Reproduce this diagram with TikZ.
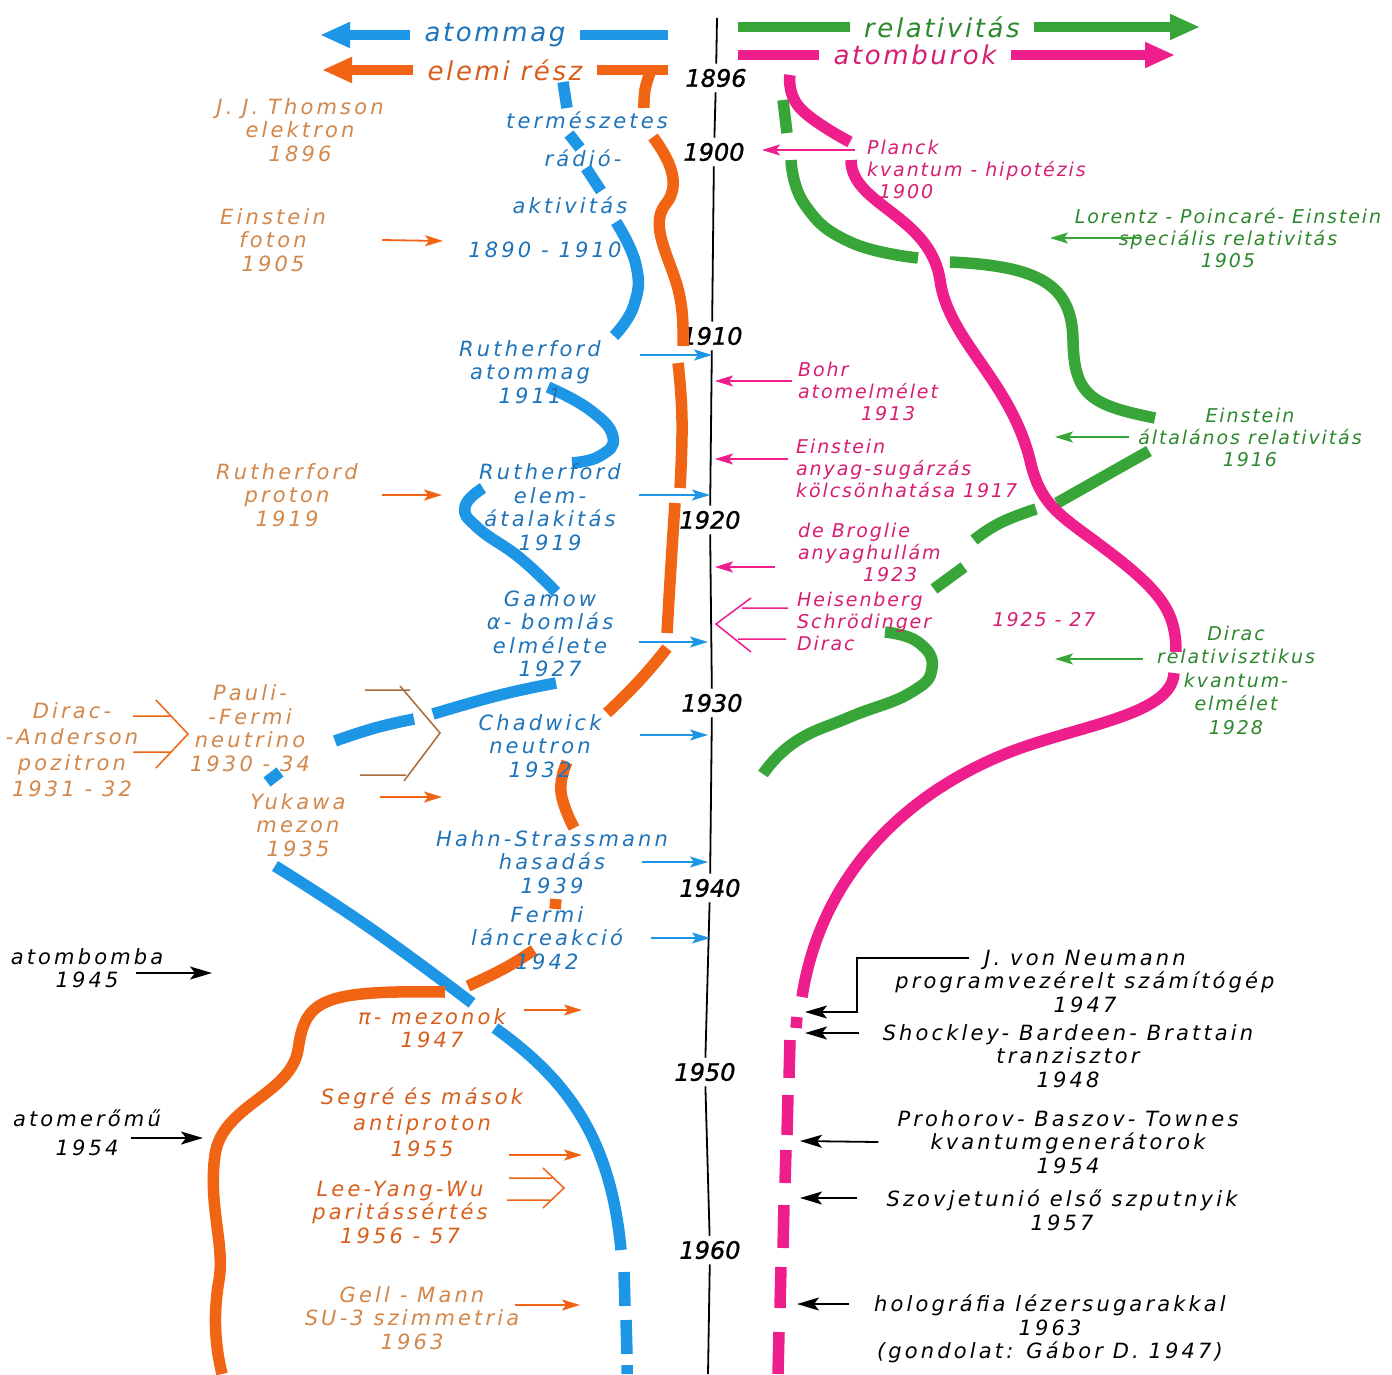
\documentclass[tikz,border=0pt]{standalone}
\usepackage{fontspec}
\newfontfamily\hand{DejaVu Sans Oblique}[LetterSpace=15]
\newfontfamily\handS{DejaVu Sans Oblique}[LetterSpace=10]
\newfontfamily\handH{DejaVu Sans Oblique}[LetterSpace=10]
\newfontfamily\handY{DejaVu Sans Oblique}[FakeBold=1.2]
\usetikzlibrary{arrows.meta,calc}

\definecolor{bline}{RGB}{30,150,230}
\definecolor{oline}{RGB}{240,100,20}
\definecolor{gline}{RGB}{55,165,55}
\definecolor{mline}{RGB}{238,30,140}
\definecolor{btxt}{RGB}{30,115,185}
\definecolor{otxt}{RGB}{210,135,75}
\definecolor{odark}{RGB}{215,95,30}
\definecolor{gtxt}{RGB}{45,135,45}
\definecolor{mtxt}{RGB}{215,30,115}

\begin{document}
\begin{tikzpicture}[x=1pt, y=-1pt,
  band/.style={line width=11.5pt},
  hband/.style={line width=10pt},
  bigtip/.style={-{Triangle[length=30pt,width=24pt]}},
  lab/.style={font=\hand\fontsize{21}{23.5}\selectfont, align=center, inner sep=1pt},
  slab/.style={font=\handS\fontsize{19}{22}\selectfont, align=center, inner sep=1pt},
  yr/.style={font=\handY\fontsize{24}{25}\selectfont, inner sep=5pt},
  hd/.style={font=\handH\fontsize{26}{28}\selectfont, inner sep=14pt},
  tline/.style={line width=1.8pt},
  thin/.style={line width=1.8pt, -{Stealth[length=18pt,width=11pt,inset=4pt]}},
  otip/.style={thin, oline},
  btip/.style={thin, bline},
  mtip/.style={thin, mline},
  gtip/.style={thin, gline},
  ktip/.style={line width=1.8pt, -{Stealth[length=22pt,width=13pt,inset=5pt]}},
  chev/.style={line width=1.5pt}
]
\fill[white] (0,0) rectangle (1392,1374);
\useasboundingbox (0,0) rectangle (1392,1374);

% headers
\node[hd, btxt] (hatom) at (495,35) {atommag};
\node[hd, odark] (helem) at (505,70) {elemi rész};
\node[hd, gtxt] (hrel) at (942,27) {relativitás};
\node[hd, mtxt] (hburok) at (915,55) {atomburok};
\coordinate (atomtip) at (320,35);
\coordinate (atomend) at (668,35);
\coordinate (elemtip) at (322,70);
\coordinate (elemend) at (668,70);
\coordinate (relbeg) at (738,27);
\coordinate (reltip) at (1200,27);
\coordinate (burbeg) at (738,55);
\coordinate (burtip) at (1175,55);
\draw[hband, bline, bigtip] (hatom) -- (atomtip);
\draw[hband, bline] (hatom) -- (atomend);
\draw[hband, oline, bigtip] (helem) -- (elemtip);
\draw[hband, oline] (helem) -- (elemend);
\draw[hband, gline] (relbeg) -- (hrel);
\draw[hband, gline, bigtip] (hrel) -- (reltip);
\draw[hband, mline] (burbeg) -- (hburok);
\draw[hband, mline, bigtip] (hburok) -- (burtip);

% timeline
\node[yr] (y1896) at (716,78) {1896};
\node[yr] (y1900) at (714,152) {1900};
\node[yr] (y1910) at (712,336) {1910};
\node[yr] (y1920) at (710,520) {1920};
\node[yr] (y1930) at (712,703) {1930};
\node[yr] (y1940) at (710,888) {1940};
\node[yr] (y1950) at (705,1072) {1950};
\node[yr] (y1960) at (710,1250) {1960};
\coordinate (ttop) at (717,18);
\coordinate (tbot) at (708,1374);
\draw[tline] (ttop) -- (y1896) -- (y1900) -- (y1910) -- (y1920) -- (y1930)
  -- (y1940) -- (y1950) -- (y1960) -- (tbot);

% atommag (blue band)
\draw[band, bline] (563,82) -- (567,108);
\draw[band, bline] (569,134) -- (580,148);
\draw[band, bline] (586,168) -- (601,191);
\draw[band, bline] plot[smooth, tension=0.8] coordinates {(616,222) (636,265) (634,305) (614,336)};
\draw[band, bline] plot[smooth, tension=0.8] coordinates {(548,387) (590,410) (613,437) (600,456) (572,463)};
\draw[band, bline] plot[smooth, tension=0.8] coordinates {(483,488) (465,507) (478,528) (520,558) (556,592)};
\draw[band, bline] plot[smooth, tension=0.8] coordinates {(556,683) (500,695) (433,714)};
\draw[band, bline] plot[smooth, tension=0.8] coordinates {(414,719) (375,728) (335,741)};
\draw[band, bline] (267,782) -- (280,772);
\draw[band, bline] plot[smooth, tension=0.8] coordinates {(275,866) (370,928) (472,1003)};
\draw[band, bline] (495,1028) .. controls (560,1075) and (610,1130) .. (621,1250);
\draw[band, bline] (624,1272) -- (625,1306) (626,1320) -- (627,1354) (627,1365) -- (627,1374);

% elemi resz (orange band)
\draw[band, oline] plot[smooth, tension=0.8] coordinates {(650,73) (645,90) (644,108)};
\draw[band, oline] (653,137) .. controls (670,160) and (682,185) .. (665,205)
  .. controls (650,225) and (668,255) .. (677,285) .. controls (684,310) and (683,330) .. (683,346);
\draw[band, oline] plot[smooth, tension=0.8] coordinates {(678,363) (682,420) (680,488)};
\draw[band, oline] plot[smooth, tension=0.8] coordinates {(675,503) (671,565) (667,633)};
\draw[band, oline] plot[smooth, tension=0.8] coordinates {(667,648) (640,680) (607,713)};
\draw[band, oline] plot[smooth, tension=0.8] coordinates {(567,762) (561,792) (574,828)};
\draw[band, oline] (556,899) -- (555,909);
\draw[band, oline] plot[smooth, tension=0.8] coordinates {(534,950) (505,968) (468,986)};
\draw[band, oline] (445,992) .. controls (320,990) and (305,1000) .. (298,1050)
  .. controls (290,1095) and (222,1105) .. (215,1155) .. controls (208,1205) and (225,1245) .. (219,1280)
  .. controls (213,1315) and (215,1345) .. (222,1374);

% relativitas (green band)
\draw[band, gline] (783,100) -- (787,133);
\draw[band, gline] plot[smooth, tension=0.8] coordinates {(791,160) (805,205) (850,242) (918,258)};
\draw[band, gline] (950,262) .. controls (1040,266) and (1072,285) .. (1073,340)
  .. controls (1074,395) and (1090,405) .. (1155,418);
\draw[band, gline] (1149,451) -- (1057,503);
\draw[band, gline] plot[smooth, tension=0.8] coordinates {(1036,509) (1000,523) (974,540)};
\draw[band, gline] (964,567) -- (934,589);
\draw[band, gline] plot[smooth, tension=0.8] coordinates {(885,632) (918,642) (932,668) (910,693) (850,717) (795,742) (763,774)};

% atomburok (magenta band)
\draw[band, mline] plot[smooth, tension=0.8] coordinates {(790,75) (800,108) (850,142)};
\draw[band, mline] (851,160) .. controls (851,205) and (930,215) .. (940,280)
  .. controls (948,340) and (1010,380) .. (1030,460) .. controls (1040,505) and (1060,515) .. (1100,545)
  .. controls (1160,590) and (1176,610) .. (1176,652);
\draw[band, mline] (1174,673) .. controls (1172,715) and (1080,725) .. (1010,752)
  .. controls (900,795) and (820,880) .. (802,997);
\draw[band, mline] (797,1017) -- (796,1028) (790,1040) -- (789,1078) (788,1095) -- (787,1135)
  (786,1150) -- (785,1183) (784,1205) -- (783,1248) (781,1267) -- (780,1308) (779,1332) -- (778,1374);

% left labels
\node[lab, otxt] (thomson) at (300,130) {J. J. Thomson\\elektron\\1896};
\node[lab, otxt] (foton) at (273,240) {Einstein\\foton\\1905};
\node[lab, otxt] (proton) at (287,495) {Rutherford\\proton\\1919};
\node[lab, otxt, font=\hand\fontsize{21}{26}\selectfont] (pozitron) at (72,750) {Dirac-\\-Anderson\\pozitron\\1931 - 32};
\node[lab, otxt] (neutrino) at (250,728) {Pauli-\\-Fermi\\neutrino\\1930 - 34};
\node[lab, otxt] (yukawa) at (298,825) {Yukawa\\mezon\\1935};
\node[lab, odark] (pimezon) at (432,1028) {π- mezonok\\1947};
\node[lab, odark, font=\hand\fontsize{21}{26}\selectfont] (antiproton) at (422,1122) {Segré és mások\\antiproton\\1955};
\node[lab, odark] (paritas) at (400,1212) {Lee-Yang-Wu\\paritássértés\\1956 - 57};
\node[lab, otxt] (su3) at (412,1318) {Gell - Mann\\SU-3 szimmetria\\1963};
\node[lab] (bomba) at (87,968) {atombomba\\1945};
\node[lab, font=\hand\fontsize{21}{29}\selectfont] (eromu) at (87,1133) {atomerőmű\\1954};

% blue labels
\node[lab, btxt] (termesz) at (587,120) {természetes};
\node[lab, btxt] (radio) at (583,158) {rádió-};
\node[lab, btxt] (aktiv) at (570,205) {aktivitás};
\node[lab, btxt] (radyrs) at (545,250) {1890 - 1910};
\node[lab, btxt] (atommag) at (530,372) {Rutherford\\atommag\\1911};
\node[lab, btxt] (elematal) at (550,507) {Rutherford\\elem-\\átalakitás\\1919};
\node[lab, btxt] (gamow) at (550,634) {Gamow\\α- bomlás\\elmélete\\1927};
\node[lab, btxt] (chadwick) at (540,746) {Chadwick\\neutron\\1932};
\node[lab, btxt] (hahn) at (552,862) {Hahn-Strassmann\\hasadás\\1939};
\node[lab, btxt] (lanc) at (547,938) {Fermi\\láncreakció\\1942};

% magenta labels
\node[slab, mtxt, anchor=west, align=left] (planck) at (866,169) {Planck\\kvantum - hipotézis\\\hspace*{12pt}1900};
\node[slab, mtxt, anchor=west, align=left] (bohr) at (797,391) {Bohr\\atomelmélet\\\hspace*{63pt}1913};
\node[slab, mtxt, anchor=west, align=left] (anyag) at (795,468) {Einstein\\anyag-sugárzás\\kölcsönhatása 1917};
\node[slab, mtxt, anchor=west, align=left] (broglie) at (797,552) {de Broglie\\anyaghullám\\\hspace*{65pt}1923};
\node[slab, mtxt, anchor=west, align=left] (heis) at (796,621) {Heisenberg\\Schrödinger\\Dirac};
\node[slab, mtxt] (qm) at (1044,620) {1925 - 27};

% green labels
\node[slab, gtxt] (lorentz) at (1228,238) {Lorentz - Poincaré- Einstein\\speciális relativitás\\1905};
\node[slab, gtxt] (altrel) at (1250,437) {Einstein\\általános relativitás\\1916};
\node[slab, gtxt, font=\handS\fontsize{19}{23.5}\selectfont] (diracrel) at (1236,680) {Dirac\\relativisztikus\\kvantum-\\elmélet\\1928};

% right black labels
\node[lab] (neumann) at (1085,981) {J. von Neumann\\programvezérelt számítógép\\1947};
\node[lab] (tranz) at (1068,1056) {Shockley- Bardeen- Brattain\\tranzisztor\\1948};
\node[lab] (maser) at (1068,1142) {Prohorov- Baszov- Townes\\kvantumgenerátorok\\1954};
\node[lab] (szputnyik) at (1062,1210) {Szovjetunió első szputnyik\\1957};
\node[lab] (holo) at (1050,1329) {holográfia lézersugarakkal\\1963\\(gondolat: Gábor D. 1947)};

% arrow targets
\coordinate (fotonT) at (443,241);
\coordinate (protonT) at (442,495);
\coordinate (yukawaT) at (442,797);
\coordinate (pimezonT) at (582,1010);
\coordinate (antiprotonT) at (582,1155);
\coordinate (su3T) at (580,1305);
\coordinate (t1911) at (712,355);
\coordinate (t1919) at (710,495);
\coordinate (t1927) at (708,642);
\coordinate (t1932) at (708,735);
\coordinate (t1939) at (708,862);
\coordinate (t1942) at (710,938);
\coordinate (t1900) at (762,150);
\coordinate (t1913) at (715,381);
\coordinate (t1917) at (715,459);
\coordinate (t1923) at (715,567);
\coordinate (r1905) at (1050,238);
\coordinate (r1916) at (1055,437);
\coordinate (r1928) at (1055,659);
\coordinate (bombaT) at (212,973);
\coordinate (eromuT) at (203,1138);
\coordinate (t1947) at (805,1012);
\coordinate (t1948) at (805,1033);
\coordinate (t1954) at (800,1141);
\coordinate (t1957) at (800,1198);
\coordinate (t1963) at (797,1304);

\draw[otip] ([xshift=55pt]foton.east) -- (fotonT);
\draw[otip] ([xshift=23pt]proton.east) -- (protonT);
\draw[otip] ([xshift=33pt,yshift=28pt]yukawa.east) -- (yukawaT);
\draw[otip] ([xshift=17pt,yshift=18pt]pimezon.east) -- (pimezonT);
\draw[otip] ([xshift=-15pt,yshift=-33pt]antiproton.east) -- (antiprotonT);
\draw[otip] ([xshift=-5pt,yshift=13pt]su3.east) -- (su3T);

\draw[btip] ([xshift=38pt,yshift=17pt]atommag.east) -- (t1911);
\draw[btip] ([xshift=17pt,yshift=12pt]elematal.east) -- (t1919);
\draw[btip] ([xshift=25pt,yshift=-8pt]gamow.east) -- (t1927);
\draw[btip] ([xshift=37pt,yshift=11pt]chadwick.east) -- (t1932);
\draw[btip] ([xshift=-27pt]hahn.east) -- (t1939);
\draw[btip] ([xshift=27pt]lanc.east) -- (t1942);

\draw[mtip] ([xshift=-11pt,yshift=19pt]planck.west) -- (t1900);
\draw[mtip] ([xshift=-5pt,yshift=10pt]bohr.west) -- (t1913);
\draw[mtip] ([xshift=-7pt,yshift=9pt]anyag.west) -- (t1917);
\draw[mtip] ([xshift=-22pt,yshift=-15pt]broglie.west) -- (t1923);

\draw[gtip] ([xshift=67pt]lorentz.west) -- (r1905);
\draw[gtip] ([xshift=-8pt]altrel.west) -- (r1916);
\draw[gtip] ([xshift=-13pt,yshift=21pt]diracrel.west) -- (r1928);

\draw[ktip] ([xshift=-28pt,yshift=-5pt]bomba.east) -- (bombaT);
\draw[ktip] ([xshift=-31pt,yshift=-5pt]eromu.east) -- (eromuT);
\draw[ktip] ([xshift=75pt,yshift=23pt]neumann.west) -- ++(-112,0) |- (t1947);
\draw[ktip] ([xshift=-23pt,yshift=23pt]tranz.west) -- (t1948);
\draw[ktip] ([xshift=-18pt]maser.west) -- (t1954);
\draw[ktip] ([xshift=-28pt,yshift=12pt]szputnyik.west) -- (t1957);
\draw[ktip] ([xshift=-24pt,yshift=25pt]holo.west) -- (t1963);

% open double arrows
\draw[chev, oline] (133,716) -- (170,716) (133,752) -- (170,752) (156,700) -- (188,734) -- (156,768);
\draw[chev, otxt!80!black] (365,690) -- (410,690) (360,775) -- (406,775) (400,686) -- (440,733) -- (404,781);
\draw[chev, oline] (509,1178) -- (552,1178) (507,1200) -- (550,1200) (543,1168) -- (564,1188) -- (543,1208);
\draw[chev, mline] (788,608) -- (742,608) (786,639) -- (738,639) (751,598) -- (716,624) -- (751,652);
\end{tikzpicture}
\end{document}
